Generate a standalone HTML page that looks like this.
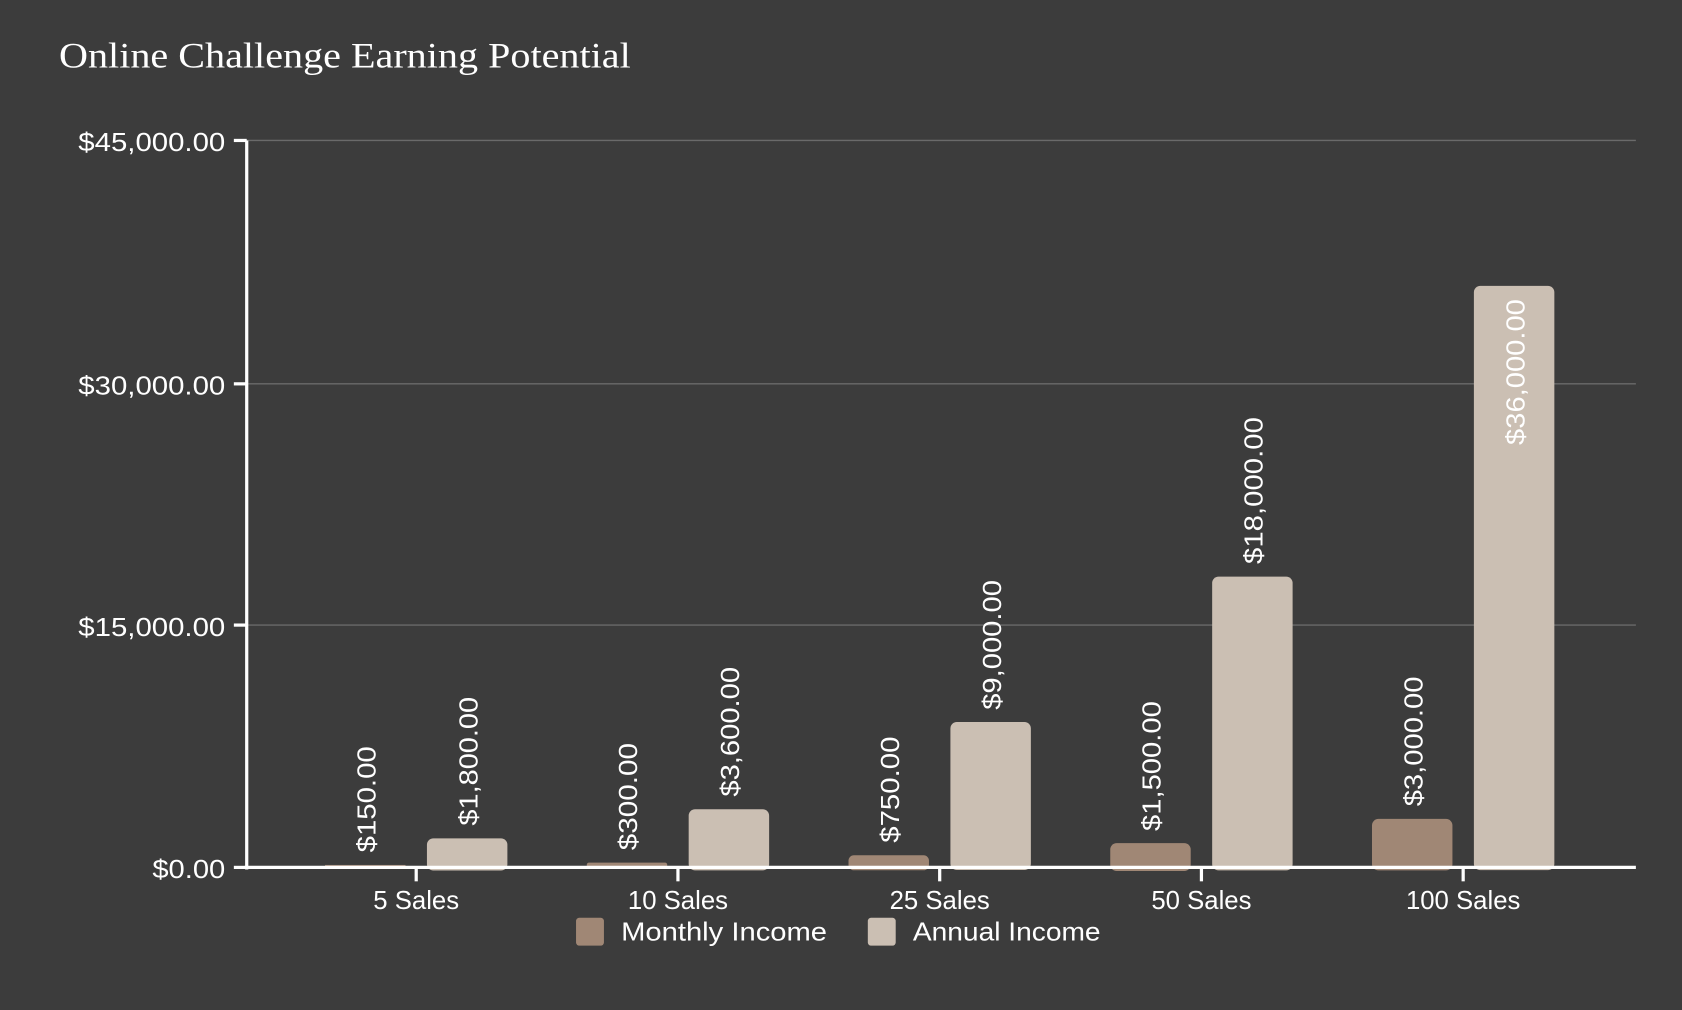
<!DOCTYPE html>
<html><head><meta charset="utf-8"><style>
html,body{margin:0;padding:0;background:#3c3c3c;}
svg{display:block;}
.t{font-family:"Liberation Sans",sans-serif;fill:#fff;font-size:24px;}
.l{font-family:"Liberation Sans",sans-serif;fill:#fff;font-size:24px;}
</style></head><body>
<svg width="1682" height="1010" viewBox="0 0 1568 942" preserveAspectRatio="none" xmlns="http://www.w3.org/2000/svg">
<rect width="1568" height="942" fill="#3c3c3c"/>
<text x="55" y="63" font-family="Liberation Serif, serif" font-size="34" fill="#fff" textLength="533" lengthAdjust="spacingAndGlyphs">Online Challenge Earning Potential</text>
<g stroke="#6a6a6a" stroke-width="1.3">
<line x1="230" y1="131" x2="1525" y2="131"/>
<line x1="230" y1="358" x2="1525" y2="358"/>
<line x1="230" y1="583" x2="1525" y2="583"/>
</g>
<g class="t" text-anchor="end">
<text x="210" y="141" textLength="137" lengthAdjust="spacingAndGlyphs">$45,000.00</text>
<text x="210" y="368" textLength="137" lengthAdjust="spacingAndGlyphs">$30,000.00</text>
<text x="210" y="593" textLength="137" lengthAdjust="spacingAndGlyphs">$15,000.00</text>
<text x="210" y="819" textLength="68" lengthAdjust="spacingAndGlyphs">$0.00</text>
</g>
<g fill="#a08775">
<rect x="303" y="806.7" width="75" height="2.3"/>
<rect x="547" y="804.5" width="75" height="4.5" rx="2"/>
<rect x="791" y="797.7" width="75" height="14" rx="5"/>
<rect x="1035" y="786.4" width="75" height="26" rx="6"/>
<rect x="1279" y="763.8" width="75" height="48" rx="6"/>
</g>
<g fill="#cbbfb3">
<rect x="398" y="781.9" width="75" height="30" rx="6"/>
<rect x="642" y="754.8" width="75" height="57" rx="6"/>
<rect x="886" y="673.4" width="75" height="138" rx="6"/>
<rect x="1130" y="537.8" width="75" height="274" rx="6"/>
<rect x="1374" y="266.6" width="75" height="545" rx="6"/>
</g>
<g stroke="#fff" stroke-width="3">
<line x1="230" y1="131" x2="230" y2="811"/>
<line x1="228" y1="809" x2="1525" y2="809"/>
<line x1="218" y1="131" x2="230" y2="131"/>
<line x1="218" y1="358" x2="230" y2="358"/>
<line x1="218" y1="583" x2="230" y2="583"/>
<line x1="218" y1="809" x2="230" y2="809"/>
<line x1="388" y1="809" x2="388" y2="822"/>
<line x1="632" y1="809" x2="632" y2="822"/>
<line x1="876" y1="809" x2="876" y2="822"/>
<line x1="1120" y1="809" x2="1120" y2="822"/>
<line x1="1364" y1="809" x2="1364" y2="822"/>
</g>
<g class="t" text-anchor="middle">
<text x="388" y="848">5 Sales</text>
<text x="632" y="848">10 Sales</text>
<text x="876" y="848">25 Sales</text>
<text x="1120" y="848">50 Sales</text>
<text x="1364" y="848">100 Sales</text>
</g>
<g class="l">
<text transform="translate(350,795) rotate(-90)" textLength="99" lengthAdjust="spacingAndGlyphs">$150.00</text>
<text transform="translate(594,793) rotate(-90)" textLength="100" lengthAdjust="spacingAndGlyphs">$300.00</text>
<text transform="translate(838,786) rotate(-90)" textLength="99" lengthAdjust="spacingAndGlyphs">$750.00</text>
<text transform="translate(1082,775) rotate(-90)" textLength="121" lengthAdjust="spacingAndGlyphs">$1,500.00</text>
<text transform="translate(1326,752) rotate(-90)" textLength="121" lengthAdjust="spacingAndGlyphs">$3,000.00</text>
<text transform="translate(445,770) rotate(-90)" textLength="120" lengthAdjust="spacingAndGlyphs">$1,800.00</text>
<text transform="translate(689,743) rotate(-90)" textLength="121" lengthAdjust="spacingAndGlyphs">$3,600.00</text>
<text transform="translate(933,662) rotate(-90)" textLength="121" lengthAdjust="spacingAndGlyphs">$9,000.00</text>
<text transform="translate(1177,526) rotate(-90)" textLength="137" lengthAdjust="spacingAndGlyphs">$18,000.00</text>
<text transform="translate(1421,415) rotate(-90)" textLength="136" lengthAdjust="spacingAndGlyphs">$36,000.00</text>
</g>
<rect x="537" y="856" width="26" height="26" rx="3" fill="#a08775"/>
<text class="t" x="579" y="877" textLength="192" lengthAdjust="spacingAndGlyphs">Monthly Income</text>
<rect x="809" y="856" width="26" height="26" rx="3" fill="#cbbfb3"/>
<text class="t" x="851" y="877" textLength="175" lengthAdjust="spacingAndGlyphs">Annual Income</text>
</svg>
</body></html>
